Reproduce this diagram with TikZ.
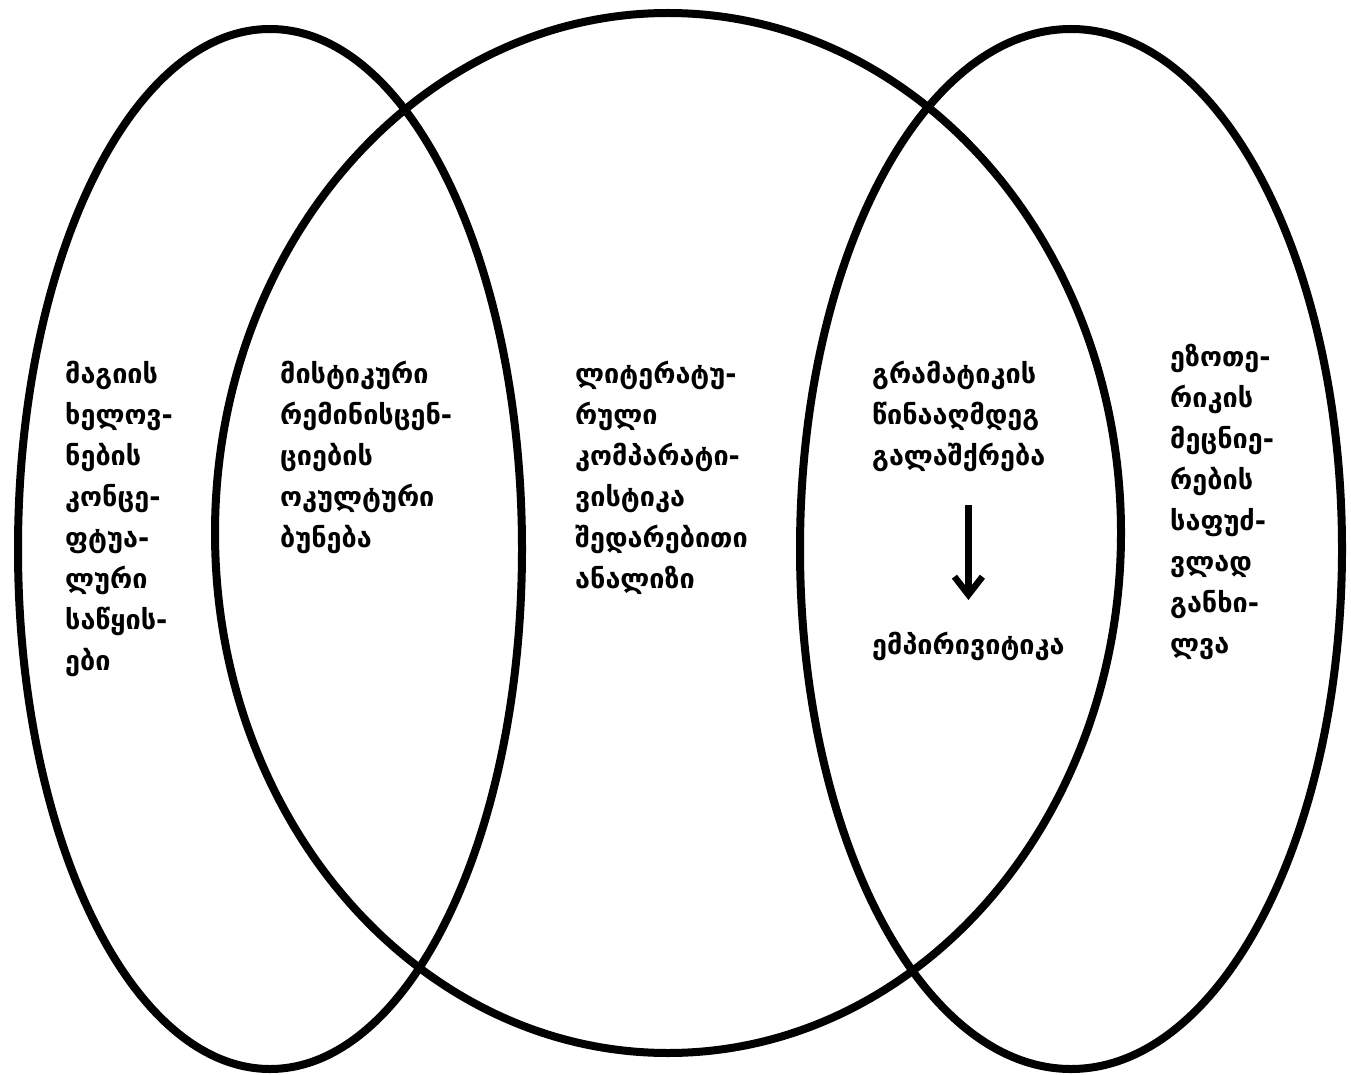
\documentclass[tikz,border=0pt]{standalone}
\usepackage{fontspec}
\setmainfont{DejaVu Sans}
\usetikzlibrary{shapes,arrows,arrows.meta}
\tikzstyle{oval} = [ellipse, draw, line width=8pt, inner sep=0pt]
\tikzstyle{words} = [anchor=north west, align=left, inner sep=0pt,
font=\fontsize{27}{41}\selectfont\bfseries]
\tikzstyle{line} = [draw, line width=6.5pt, -{Straight Barb[length=18pt,width=28pt]}]

\begin{document}
\begin{tikzpicture}[x=1pt, y=-1pt]
	\useasboundingbox (0,0) rectangle (1351,1075);
	% Place ovals
	\node [oval, minimum width=504pt, minimum height=1040pt] (leftoval) at (270,549) {};
	\node [oval, minimum width=906pt, minimum height=1040pt] (midoval) at (668,533) {};
	\node [oval, minimum width=542pt, minimum height=1040pt] (rightoval) at (1071,549) {};
	
	% Place nodes
	\node [words] (magic) at (65,361) {მაგიის\\ხელოვ-\\ნების\\კონცე-\\ფტუა-\\ლური\\საწყის-\\ები};
	\node [words] (mystic) at (280,361) {მისტიკური\\რემინისცენ-\\ციების\\ოკულტური\\ბუნება};
	\node [words] (lit) at (575,361) {ლიტერატუ-\\რული\\კომპარატი-\\ვისტიკა\\შედარებითი\\ანალიზი};
	\node [words] (gram) at (872,361) {გრამატიკის\\წინააღმდეგ\\გალაშქრება};
	\node [words] (emp) at (872,632) {ემპირივიტიკა};
	\node [words] (esot) at (1170,344) {ეზოთე-\\რიკის\\მეცნიე-\\რების\\საფუძ-\\ვლად\\განხი-\\ლვა};
	
	\path [line, shorten <=33pt, shorten >=32pt] (gram.south -| emp.north) -- (emp.north);
\end{tikzpicture}
\end{document}
